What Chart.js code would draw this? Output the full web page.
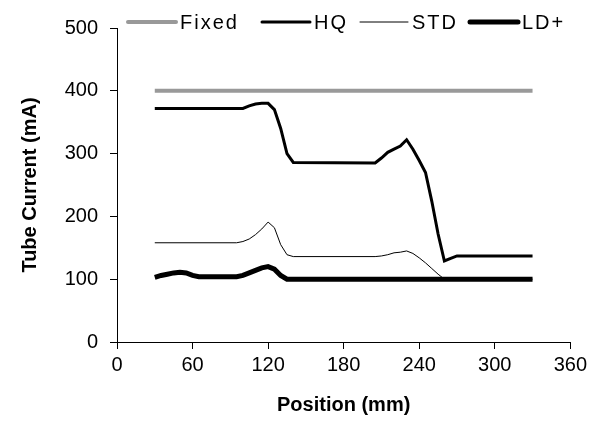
<!DOCTYPE html>
<html>
<head>
<meta charset="utf-8">
<title>Tube Current vs Position</title>
<script src="https://cdn.jsdelivr.net/npm/chart.js@4.4.1/dist/chart.umd.min.js"></script>
<style>
  html, body { margin: 0; padding: 0; background: #ffffff; }
  #wrap { width: 591px; height: 429px; }
</style>
</head>
<body>
<div id="wrap"><canvas id="currentChart" width="591" height="429"></canvas></div>
<script>
// x 軸刻度與 y 軸刻度
const xTicks = [0, 60, 120, 180, 240, 300, 360];
const yTicks = [0, 100, 200, 300, 400, 500];

// 各模式的位置 (mm) 與管電流 (mA)
const fixedPos = [30, 330];
const fixedMA  = [400, 400];

const hqPos = [30, 100, 105, 110, 115, 120, 125, 130, 135, 140, 205, 210, 215, 220, 225, 230, 235, 240, 245, 250, 255, 260, 265, 270, 330];
const hqMA  = [372, 372, 376, 379, 380, 380, 370, 340, 300, 286, 285, 293, 302, 307, 312, 322, 307, 289, 270, 224, 172, 129, 133, 137, 137];

const stdPos = [30, 95, 100, 105, 110, 115, 120, 125, 130, 135, 140, 205, 210, 215, 220, 225, 230, 235, 240, 245, 250, 255, 260, 330];
const stdMA  = [158, 158, 160, 164, 171, 180, 191, 182, 155, 139, 136, 136, 137, 139, 142, 143, 145, 141, 134, 126, 117, 108, 100, 100];

const ldPos = [30, 35, 40, 45, 50, 55, 60, 65, 95, 100, 105, 110, 115, 120, 125, 130, 135, 140, 330];
const ldMA  = [103, 106, 108, 110, 111, 110, 106, 104, 104, 106, 110, 114, 118, 120, 116, 106, 100, 100, 100];

// 圖例排版：每個項目線段起點 x、線長
const legendSlots = [128, 262, 360, 470];
const legendLineLen = 48;
const legendY = 22;

const toPoints = (xs, ys) => xs.map((x, i) => ({ x: x, y: ys[i] }));

function series(label, xs, ys, color, width) {
  return {
    label: label,
    data: toPoints(xs, ys),
    borderColor: color,
    backgroundColor: color,
    borderWidth: width,
    pointRadius: 0,
    pointHoverRadius: 0,
    tension: 0,
    fill: false,
  };
}

// 自繪圖例（字距較寬，壓在繪圖區上緣）
const lineLegend = {
  id: "lineLegend",
  afterDraw(chart) {
    const ctx = chart.ctx;
    ctx.save();
    ctx.font = "20px 'Liberation Sans', Arial, sans-serif";
    ctx.letterSpacing = "2px";
    ctx.textBaseline = "middle";
    ctx.textAlign = "left";
    chart.data.datasets.forEach((ds, i) => {
      const x0 = legendSlots[i];
      ctx.strokeStyle = ds.borderColor;
      ctx.lineWidth = ds.borderWidth;
      ctx.lineCap = "round";
      ctx.beginPath();
      ctx.moveTo(x0, legendY);
      ctx.lineTo(x0 + legendLineLen, legendY);
      ctx.stroke();
      ctx.fillStyle = "#000000";
      ctx.fillText(ds.label, x0 + legendLineLen + 4, legendY + 1);
    });
    ctx.restore();
  },
};

Chart.defaults.font.family = "'Liberation Sans', Arial, sans-serif";
Chart.defaults.color = "#000000";

const axisFont = { size: 20 };
const titleFont = { size: 20, weight: "bold" };

new Chart(document.getElementById("currentChart"), {
  type: "line",
  data: {
    datasets: [
      series("Fixed", fixedPos, fixedMA, "#999999", 4),
      series("HQ", hqPos, hqMA, "#000000", 3),
      series("STD", stdPos, stdMA, "#000000", 1),
      series("LD+", ldPos, ldMA, "#000000", 5),
    ],
  },
  plugins: [lineLegend],
  options: {
    responsive: false,
    animation: false,
    layout: { padding: { left: 0, right: 4, top: 28, bottom: 0 } },
    plugins: {
      tooltip: { enabled: false },
      legend: { display: false },
    },
    scales: {
      x: {
        type: "linear",
        min: 0,
        max: 360,
        afterBuildTicks: (axis) => { axis.ticks = xTicks.map(v => ({ value: v })); },
        afterFit: (axis) => { axis.height = 87; },
        ticks: { color: "#000000", font: axisFont, padding: 4, maxRotation: 0 },
        grid: { display: true, drawOnChartArea: false, drawTicks: true, tickLength: 7, color: "#000000" },
        border: { display: true, color: "#000000", width: 1 },
        title: { display: true, text: "Position (mm)", font: titleFont, color: "#000000", padding: { top: 0, bottom: 12 } },
      },
      y: {
        min: 0,
        max: 500,
        afterBuildTicks: (axis) => { axis.ticks = yTicks.map(v => ({ value: v })); },
        afterFit: (axis) => { axis.width = 117; },
        ticks: { color: "#000000", font: axisFont, padding: 12 },
        grid: { display: true, drawOnChartArea: false, drawTicks: true, tickLength: 7, color: "#000000" },
        border: { display: true, color: "#000000", width: 1 },
        title: { display: true, text: "Tube Current (mA)", font: titleFont, color: "#000000", padding: { top: 18, bottom: 0 } },
      },
    },
  },
});
</script>
</body>
</html>
